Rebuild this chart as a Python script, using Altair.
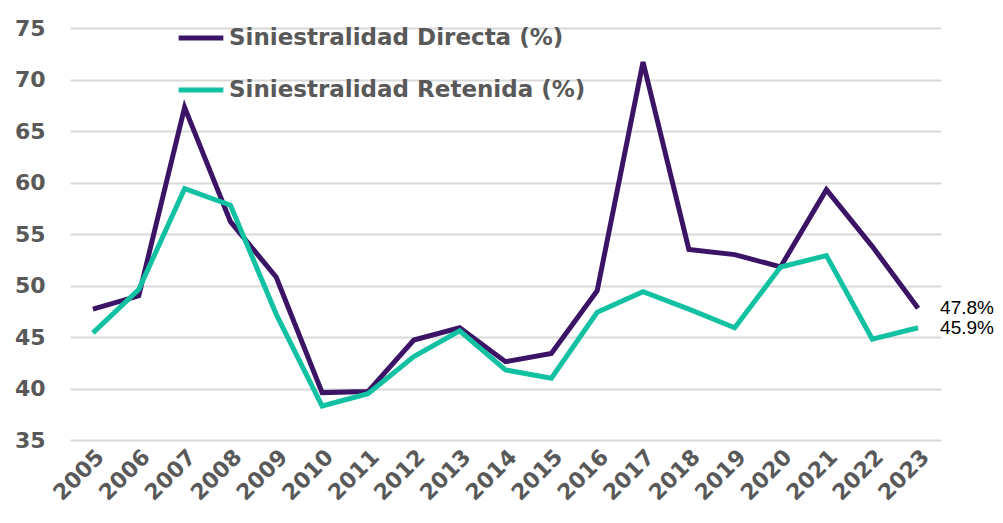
import altair as alt
import pandas as pd

years = [str(y) for y in range(2005, 2024)]
directa = [47.7, 49.0, 67.3, 56.2, 50.8, 39.6, 39.7, 44.7, 45.9, 42.6, 43.4, 49.5,
           71.7, 53.5, 53.0, 51.8, 59.3, 53.8, 47.8]
retenida = [45.4, 49.6, 59.4, 57.8, 47.2, 38.3, 39.5, 43.1, 45.6, 41.8, 41.0, 47.4,
            49.4, 47.7, 45.9, 51.8, 52.9, 44.8, 45.9]
series = ["Siniestralidad Directa (%)", "Siniestralidad Retenida (%)"]
colors = ["#3B1466", "#12C1A1"]
y_ticks = [35, 40, 45, 50, 55, 60, 65, 70, 75]

rows = []
for name, vals in zip(series, [directa, retenida]):
    for yr, v in zip(years, vals):
        rows.append({"year": yr, "value": v, "series": name,
                     "label": f"{v:.1f}%"})
df = pd.DataFrame(rows)

FONT = "DejaVu Sans"
GREY = "#595959"

base = alt.Chart(df)

lines = base.mark_line(strokeWidth=5, strokeJoin="miter").encode(
    x=alt.X("year:N", sort=years, title=None,
            scale=alt.Scale(type="point", padding=0.5),
            axis=alt.Axis(labelAngle=-45, labelFontSize=22, labelFontWeight="bold",
                          labelColor=GREY, labelFont=FONT,
                          domain=False, ticks=False, labelPadding=6)),
    y=alt.Y("value:Q", title=None,
            scale=alt.Scale(domain=[35, 75], nice=False, zero=False),
            axis=alt.Axis(values=y_ticks, labelFontSize=22, labelFontWeight="bold",
                          labelColor=GREY, labelFont=FONT,
                          domain=False, ticks=False, labelPadding=25,
                          gridColor="#D9D9D9", gridWidth=2)),
    color=alt.Color("series:N", sort=series,
                    scale=alt.Scale(domain=series, range=colors),
                    legend=alt.Legend(title=None, orient="none", legendX=106, legendY=-15,
                                      direction="vertical", symbolType="stroke",
                                      symbolStrokeWidth=5, symbolSize=2000,
                                      labelFontSize=23, labelFontWeight="bold",
                                      labelColor=GREY, labelFont=FONT,
                                      rowPadding=15, labelOffset=3, labelLimit=600)),
)

labels = base.transform_filter(alt.datum.year == years[-1]).mark_text(
    align="left", baseline="middle", dx=22, fontSize=19, font="Liberation Sans",
    color="#000000"
).encode(
    x=alt.X("year:N", sort=years),
    y=alt.Y("value:Q"),
    text="label:N",
)

chart = alt.layer(lines, labels).properties(
    width=871, height=412,
    padding={"top": 5, "left": 6, "right": 0, "bottom": 0},
).configure_view(stroke=None)

chart.save("out.html", embed_options={"renderer": "svg", "actions": False})
